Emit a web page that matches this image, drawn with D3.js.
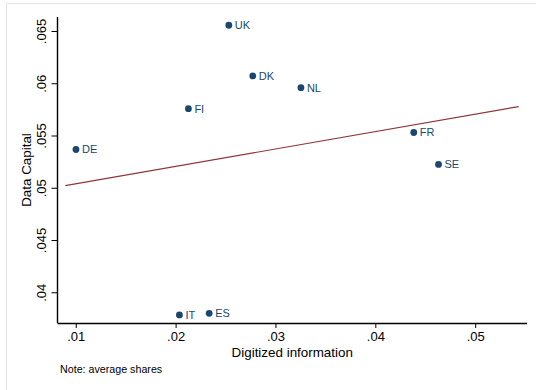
<!DOCTYPE html>
<html><head><meta charset="utf-8">
<script src="https://cdn.jsdelivr.net/npm/d3@7"></script>
<style>
html,body{margin:0;padding:0;background:#fff;}
svg{display:block;font-family:"Liberation Sans",Arial,sans-serif;}
</style></head>
<body>
<svg id="chart" width="536" height="390"></svg>
<script>
const countries = ["UK","DK","FI","DE","NL","FR","SE","IT","ES"];
const digitized = [0.02533,0.02773,0.02128,0.01002,0.03255,0.04385,0.04633,0.02038,0.02336];
const dataCapital = [0.06555,0.0607,0.05757,0.05366,0.05958,0.05529,0.05223,0.03783,0.03799];
const fitX = [0.00895,0.05435];
const fitY = [0.0502,0.05777];
const xTicks = [0.01,0.02,0.03,0.04,0.05];
const yTicks = [0.04,0.045,0.05,0.055,0.06,0.065];
const xTickLabels = [".01",".02",".03",".04",".05"];
const yTickLabels = [".04",".045",".05",".055",".06",".065"];

(function(){
const svg = d3.select("#chart");
const pL=57.5, pR=527, pT=17, pB=323;
const x = d3.scaleLinear().domain([0.00817,0.05519]).range([pL,pR]);
const y = d3.scaleLinear().domain([0.03706,0.06634]).range([pB,pT]);

// outer frame
svg.append("rect").attr("x",6.5).attr("y",3.5).attr("width",560).attr("height",420)
  .attr("fill","none").attr("stroke","#e6e6e6").attr("stroke-width",1);

const xAxis = svg.append("g").attr("transform",`translate(0,${pB})`)
  .call(d3.axisBottom(x).tickValues(xTicks).tickFormat((d,i)=>xTickLabels[i]).tickSize(5).tickPadding(4).tickSizeOuter(0));
xAxis.select(".domain").attr("stroke","#000").attr("stroke-width",1.4).attr("d",`M${pL},0.5H${pR}`);
xAxis.selectAll(".tick line").attr("stroke","#000");
xAxis.selectAll(".tick text").attr("font-size","13px").attr("fill","#000").attr("font-family","Liberation Sans, Arial, sans-serif");

const yAxis = svg.append("g").attr("transform",`translate(${pL},0)`)
  .call(d3.axisLeft(y).tickValues(yTicks).tickFormat((d,i)=>yTickLabels[i]).tickSize(6).tickPadding(4).tickSizeOuter(0));
yAxis.select(".domain").attr("stroke","#000").attr("stroke-width",1.4).attr("d",`M0,${pT}V${pB}`);
yAxis.selectAll(".tick line").attr("stroke","#000");
yAxis.selectAll(".tick text")
  .attr("font-size","13px").attr("fill","#000").attr("font-family","Liberation Sans, Arial, sans-serif")
  .attr("text-anchor","middle").attr("x",null).attr("dy",null)
  .attr("transform","translate(-16,0) rotate(-90)").attr("dy","0.35em");

// fit line
svg.append("line")
  .attr("x1",x(fitX[0])).attr("y1",y(fitY[0]))
  .attr("x2",x(fitX[1])).attr("y2",y(fitY[1]))
  .attr("stroke","#90353b").attr("stroke-width",1.2);

const pts = countries.map((c,i)=>({c, xv:digitized[i], yv:dataCapital[i]}));
svg.append("g").selectAll("circle").data(pts).join("circle")
  .attr("cx",d=>x(d.xv)).attr("cy",d=>y(d.yv)).attr("r",3.4).attr("fill","#1a476f");
svg.append("g").selectAll("text").data(pts).join("text")
  .attr("x",d=>x(d.xv)+6).attr("y",d=>y(d.yv)).attr("dy","0.36em")
  .attr("font-size","11px").attr("fill","#1a476f").text(d=>d.c);

svg.append("text").attr("x",(pL+pR)/2).attr("y",357).attr("text-anchor","middle")
  .attr("font-size","13.4px").attr("fill","#000").text("Digitized information");
svg.append("text").attr("transform",`translate(31,${(pT+pB)/2}) rotate(-90)`).attr("text-anchor","middle")
  .attr("font-size","13.4px").attr("fill","#000").text("Data Capital");
svg.append("text").attr("x",60).attr("y",373).attr("font-size","10.7px").attr("fill","#000").text("Note: average shares");
})();
</script>
</body></html>
